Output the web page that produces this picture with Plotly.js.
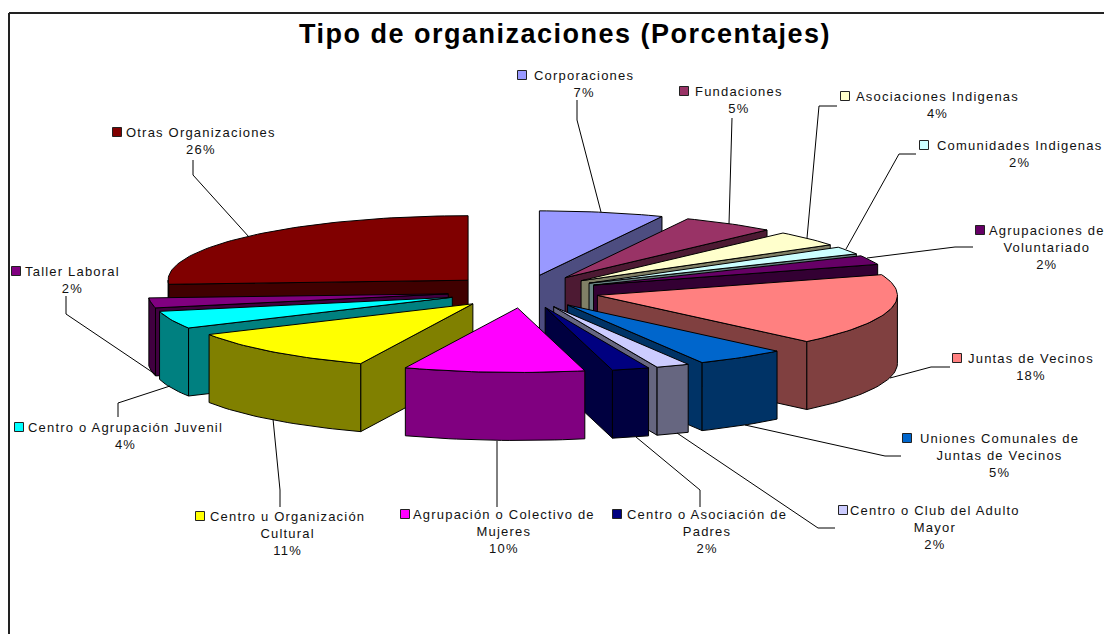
<!DOCTYPE html>
<html>
<head>
<meta charset="utf-8">
<script src="https://cdn.plot.ly/plotly-3.0.1.min.js"></script>
<style>
html,body{margin:0;padding:0;background:#fff;overflow:hidden}
#chart{width:1104px;height:634px}
.annotation-text{letter-spacing:1.2px}
.gtitle{letter-spacing:1.5px}
</style>
</head>
<body>
<div id="chart"></div>
<script>
// --- data ---
const categories = ["Corporaciones","Fundaciones","Asociaciones Indigenas","Comunidades Indigenas","Agrupaciones de<br>Voluntariado","Juntas de Vecinos","Uniones Comunales de<br>Juntas de Vecinos","Centro o Club del Adulto<br>Mayor","Centro o Asociación de<br>Padres","Agrupación o Colectivo de<br>Mujeres","Centro u Organización<br>Cultural","Centro o Agrupación Juvenil","Taller Laboral","Otras Organizaciones"];
const values = [6.7,5.05,3.85,1.9,2.3,17.9,4.9,1.8,2.0,9.7,11.0,4.4,2.49,26.01];
const topColors = ["#9999FF","#993366","#FFFFCC","#CCFFFF","#660066","#FF8080","#0066CC","#CCCCFF","#000080","#FF00FF","#FFFF00","#00FFFF","#800080","#800000"];
const sideColors = ["#4D4D80","#4D1A33","#808066","#668080","#330033","#804040","#003366","#666680","#000040","#800080","#808000","#008080","#400040","#400000"];

// --- picture layout (page pixels) ---
const drawOrder = [13,0,1,2,3,4,5,6,12,11,10,7,8,9];
const labelCenter = [[584,66],[739,82],[937,87],[1019,136],[1047,221],[1031,349],[999,429],[935,501],[707,505],[504,505],[287,507],[125,418],[72,262],[201,123]];
const keyPos = [[522,75],[684,91],[845,96],[924,145],[980,230],[957,358],[907,438],[843,510],[617,514],[405,514],[200,516],[19,427],[16,271],[117,132]];
const leaders = [
 [[577,100],[577,120],[601,212]],[[732,118],[729,224]],[[837,106],[819,106],[807,238]],
 [[916,154],[899,154],[846,249]],[[973,247],[955,247],[867,258]],[[950,367],[931,367],[890,378]],
 [[901,456],[885,456],[745,425]],[[835,528],[818,528],[677,433]],[[700,507],[700,490],[636,437]],
 [[497,507],[497,441]],[[280,507],[280,490],[273,419]],[[118,417],[118,403],[170,386]],
 [[66,296],[66,314],[155,374]],[[193,160],[193,175],[249,237]]];
const CX=523.5, CY=291.5, RX=300, RY=64.5, DEPTH=68, EX=76, EY=16.5;

// --- geometry derived from the values ---
const rad = d => d*Math.PI/180;
const slices = [];
let cum = 0;
values.forEach(v => {
  const a = cum*3.6, b = (cum+v)*3.6, m = (a+b)/2;
  slices.push({a, b, ax: CX+EX*Math.sin(rad(m)), ay: CY-EY*Math.cos(rad(m))});
  cum += v;
});
function arc(s, from, to){
  const n = Math.max(2, Math.ceil((to-from)/1.5)+1), pts = [];
  for(let i=0;i<n;i++){
    const t = from+(to-from)*i/(n-1);
    pts.push([s.ax+RX*Math.sin(rad(t)), s.ay-RY*Math.cos(rad(t))]);
  }
  return pts;
}
function poly(pts, fill, name){
  const c = pts.concat([pts[0]]);
  return {type:"scatter", mode:"lines", x:c.map(p=>p[0]), y:c.map(p=>p[1]), fill:"toself", fillcolor:fill,
          line:{color:"#000",width:1}, hoverinfo:"skip", showlegend:false, name};
}
const traces = [];
drawOrder.forEach(i => {
  const s = slices[i], side = sideColors[i], name = categories[i].replace("<br>"," ");
  const apex = [s.ax, s.ay], down = p => [p[0], p[1]+DEPTH];
  const wall = t => { const r = arc(s,t,t+1e-6)[0]; return [apex, r, down(r), down(apex)]; };
  if(Math.sin(rad(s.a)) < 0) traces.push(poly(wall(s.a), side, name));
  if(Math.sin(rad(s.b)) > 0) traces.push(poly(wall(s.b), side, name));
  const f = Math.max(s.a,90), t = Math.min(s.b,270);
  if(t > f){
    const r = arc(s,f,t);
    traces.push(poly(r.concat(r.slice().reverse().map(down)), side, name));
  }
  traces.push(poly([apex].concat(arc(s,s.a,s.b)), topColors[i], name));
});
leaders.forEach(l => traces.push({type:"scatter", mode:"lines", x:l.map(p=>p[0]), y:l.map(p=>p[1]),
  line:{color:"#000",width:1}, hoverinfo:"skip", showlegend:false}));
traces.push({type:"scatter", mode:"markers", x:keyPos.map(p=>p[0]), y:keyPos.map(p=>p[1]),
  marker:{symbol:"square", size:9, color:topColors, line:{color:"#222",width:1}}, hoverinfo:"skip", showlegend:false});

const annotations = categories.map((c,i) => ({
  x:labelCenter[i][0], y:labelCenter[i][1], xref:"x", yref:"y", xanchor:"center", yanchor:"top",
  text:c+"<br>"+Math.round(values[i])+"%", showarrow:false, align:"center",
  font:{family:"Liberation Sans, Arial, sans-serif", size:13, color:"#111"}
}));

const layout = {
  width:1104, height:634, margin:{l:0,r:0,t:0,b:0}, paper_bgcolor:"#fff", plot_bgcolor:"#fff",
  showlegend:false,
  title:{text:"Tipo de organizaciones (Porcentajes)", x:565/1104, xanchor:"center", y:1-34/634, yanchor:"middle",
         font:{family:"Liberation Sans, Arial, sans-serif", size:27, color:"#000", weight:700}},
  xaxis:{range:[0,1104], visible:false, fixedrange:true},
  yaxis:{range:[634,0], visible:false, fixedrange:true},
  annotations,
  shapes:[
    {type:"line", xref:"x", yref:"y", x0:9, x1:1104, y0:13, y1:13, line:{color:"#222",width:2}},
    {type:"line", xref:"x", yref:"y", x0:9, x1:9, y0:13, y1:634, line:{color:"#222",width:2}}
  ]
};
Plotly.newPlot("chart", traces, layout, {displayModeBar:false, staticPlot:true});
</script>
</body>
</html>
